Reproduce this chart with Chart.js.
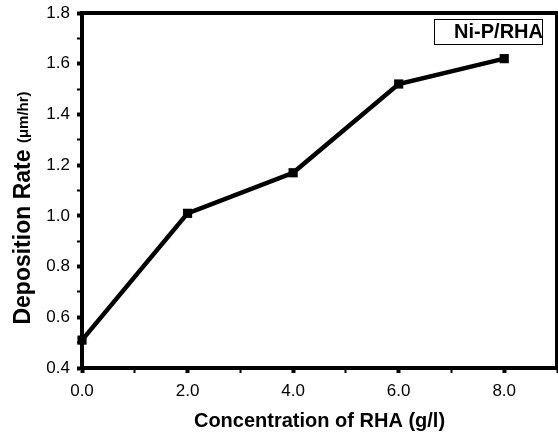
<!DOCTYPE html>
<html>
<head>
<meta charset="utf-8">
<script src="https://cdn.jsdelivr.net/npm/chart.js@4"></script>
<style>
  html, body { margin: 0; padding: 0; background: #fff; }
  #wrap { width: 558px; height: 437px; }
</style>
</head>
<body>
<div id="wrap"><canvas id="rha-chart" width="558" height="437"></canvas></div>
<script>
// data
const concentration = [0, 2, 4, 6, 8];
const depositionRate = [0.51, 1.01, 1.17, 1.52, 1.62];
const seriesLabel = 'Ni-P/RHA';
const xTitle = 'Concentration of RHA (g/l)';
const yTitleMain = 'Deposition Rate ';
const yTitleUnit = '(\u03bcm/hr)';

const FONT = 'Arial, "Liberation Sans", sans-serif';

// frame round the plot, legend box, y title (two fonts)
const framePlugin = {
    id: 'frame',
    afterDraw(chart) {
        const {ctx, chartArea: a} = chart;
        ctx.save();
        ctx.strokeStyle = '#000';
        ctx.lineWidth = 4;
        ctx.beginPath();
        ctx.moveTo(a.left, a.top);
        ctx.lineTo(a.right, a.top);
        ctx.lineTo(a.right, a.bottom);
        ctx.stroke();

        // legend
        const bx = 434, by = 19, bw = 108, bh = 25;
        ctx.lineWidth = 1;
        ctx.fillStyle = '#fff';
        ctx.fillRect(bx, by, bw, bh);
        ctx.strokeRect(bx + 0.5, by + 0.5, bw, bh);
        ctx.fillStyle = '#000';
        ctx.font = 'bold 20px ' + FONT;
        ctx.textAlign = 'right';
        ctx.textBaseline = 'middle';
        ctx.fillText(chart.data.datasets[0].label, bx + bw + 1, by + bh / 2 + 1);

        // y title
        const mainFont = 'bold 23px ' + FONT;
        const unitFont = 'bold 15px ' + FONT;
        ctx.font = mainFont;
        const w1 = ctx.measureText(yTitleMain).width;
        ctx.font = unitFont;
        const w2 = ctx.measureText(yTitleUnit).width;
        const cy = 208;
        ctx.translate(24, cy);
        ctx.rotate(-Math.PI / 2);
        ctx.textAlign = 'left';
        ctx.textBaseline = 'middle';
        ctx.font = mainFont;
        ctx.fillText(yTitleMain, -(w1 + w2) / 2, 0);
        ctx.font = unitFont;
        ctx.fillText(yTitleUnit, -(w1 + w2) / 2 + w1, 0);
        ctx.restore();
    }
};

const data = {
    datasets: [
        {
            label: seriesLabel,
            data: concentration.map((x, i) => ({x: x, y: depositionRate[i]})),
            borderColor: '#000',
            backgroundColor: '#000',
            borderWidth: 4.5,
            pointStyle: 'rect',
            pointRadius: 6.5,
            pointBorderWidth: 0,
            tension: 0,
            clip: false
        }
    ]
};

const config = {
    type: 'line',
    data: data,
    plugins: [framePlugin],
    options: {
        responsive: false,
        animation: false,
        layout: {
            autoPadding: false,
            padding: {top: 13, right: 1, left: 0, bottom: 0}
        },
        plugins: {
            legend: {display: false},
            tooltip: {enabled: false}
        },
        scales: {
            x: {
                type: 'linear',
                min: 0,
                max: 9,
                afterFit: (s) => {
                    s.height = 69;
                    s.paddingLeft = 0;
                    s.paddingRight = 0;
                },
                border: {display: true, color: '#000', width: 4},
                grid: {
                    drawOnChartArea: false,
                    drawTicks: true,
                    tickLength: 5,
                    tickColor: '#000',
                    tickWidth: (c) => (c.tick && c.tick.value % 2 === 0 ? 4 : 2)
                },
                ticks: {
                    stepSize: 1,
                    autoSkip: false,
                    color: '#000',
                    font: {family: FONT, size: 17},
                    padding: 8,
                    maxRotation: 0,
                    callback: (v) => (v % 2 === 0 && v <= 8 ? v.toFixed(1) : '')
                },
                title: {
                    display: true,
                    text: xTitle,
                    color: '#000',
                    font: {family: FONT, size: 20, weight: 'bold'},
                    padding: {top: 4, bottom: 4}
                }
            },
            y: {
                min: 0.4,
                max: 1.8,
                afterFit: (s) => {
                    s.width = 82;
                    s.paddingTop = 0;
                    s.paddingBottom = 0;
                },
                border: {display: true, color: '#000', width: 4},
                grid: {
                    drawOnChartArea: false,
                    drawTicks: true,
                    tickLength: 5,
                    tickColor: '#000',
                    tickWidth: (c) => (c.tick && Math.round(c.tick.value * 10) % 2 === 0 ? 4 : 2)
                },
                ticks: {
                    stepSize: 0.1,
                    autoSkip: false,
                    color: '#000',
                    font: {family: FONT, size: 17},
                    padding: 7,
                    callback: (v) => (Math.round(v * 10) % 2 === 0 ? v.toFixed(1) : '')
                }
            }
        }
    }
};

const ctx = document.getElementById('rha-chart').getContext('2d');
window.rhaChart = new Chart(ctx, config);
</script>
</body>
</html>
